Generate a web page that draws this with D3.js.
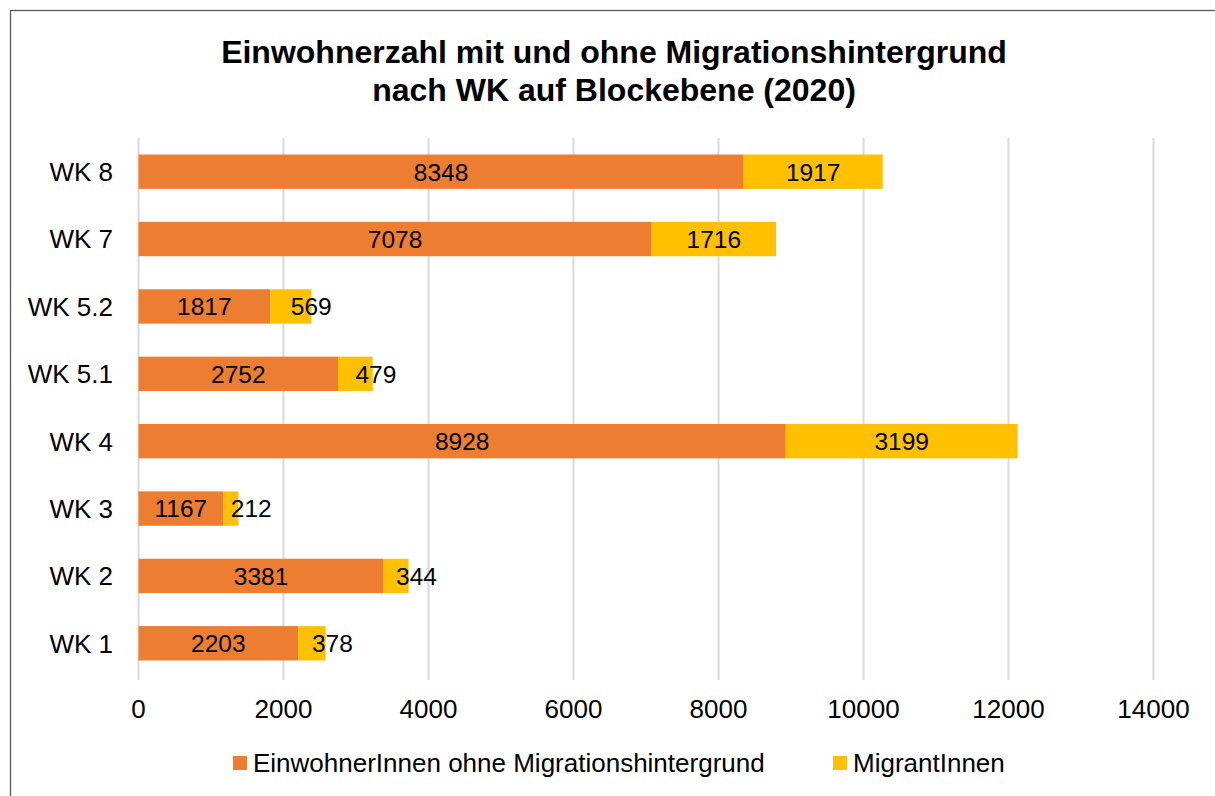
<!DOCTYPE html>
<html>
<head>
<meta charset="utf-8">
<script src="https://cdn.jsdelivr.net/npm/d3@7"></script>
<style>
  body { margin: 0; background: #fff; }
  svg { font-family: "Liberation Sans", Arial, sans-serif; }
</style>
</head>
<body>
<div id="chart"></div>
<script>
const categories = ["WK 8", "WK 7", "WK 5.2", "WK 5.1", "WK 4", "WK 3", "WK 2", "WK 1"];
const ohneMigration = [8348, 7078, 1817, 2752, 8928, 1167, 3381, 2203];
const migrantInnen = [1917, 1716, 569, 479, 3199, 212, 344, 378];
const seriesNames = ["EinwohnerInnen ohne Migrationshintergrund", "MigrantInnen"];
const seriesColors = ["#ED7D31", "#FFC000"];
const xTicks = [0, 2000, 4000, 6000, 8000, 10000, 12000, 14000];

const width = 1215, height = 796;
const svg = d3.select("#chart").append("svg")
    .attr("width", width)
    .attr("height", height);

// frame
svg.append("rect")
    .attr("x", 10.5).attr("y", 10.5)
    .attr("width", 1215).attr("height", 800)
    .attr("fill", "#fff")
    .attr("stroke", "#595959")
    .attr("stroke-width", 1.3);

// title
const title = svg.append("text")
    .attr("text-anchor", "middle")
    .style("font-size", "32px")
    .style("font-weight", "bold");
title.append("tspan").attr("x", 614).attr("y", 63).text("Einwohnerzahl mit und ohne Migrationshintergrund");
title.append("tspan").attr("x", 614).attr("y", 101).text("nach WK auf Blockebene (2020)");

const x = d3.scaleLinear().domain([0, 14000]).range([138.5, 1153.5]);
const y = d3.scaleBand().domain(categories).range([138, 677]).paddingInner(0.49).paddingOuter(0.245);

// gridlines
svg.append("g")
    .selectAll("line")
    .data(xTicks)
    .enter().append("line")
        .attr("x1", d => x(d)).attr("x2", d => x(d))
        .attr("y1", 138).attr("y2", 680)
        .attr("stroke", "#d9d9d9")
        .attr("stroke-width", 2);

// stacked data
const rows = categories.map((c, i) => ({ cat: c, ohne: ohneMigration[i], mig: migrantInnen[i] }));
const stack = d3.stack().keys(["ohne", "mig"])(rows);

const layers = svg.append("g")
    .selectAll("g")
    .data(stack)
    .enter().append("g")
        .attr("fill", (d, i) => seriesColors[i]);

layers.selectAll("rect")
    .data(d => d)
    .enter().append("rect")
        .attr("x", d => x(d[0]))
        .attr("y", d => y(d.data.cat))
        .attr("width", d => x(d[1]) - x(d[0]))
        .attr("height", y.bandwidth());

// narrow segments: label starts at the segment middle and spills out to the right
const narrow = d => x(d[1]) - x(d[0]) < 60;
layers.selectAll("text")
    .data(d => d)
    .enter().append("text")
        .attr("x", d => (x(d[0]) + x(d[1])) / 2)
        .attr("y", d => y(d.data.cat) + y.bandwidth() / 2)
        .attr("dy", "0.36em")
        .attr("text-anchor", d => narrow(d) ? "start" : "middle")
        .attr("fill", "#000")
        .style("font-size", "24.5px")
        .text(d => d[1] - d[0]);

// category labels
svg.append("g")
    .selectAll("text")
    .data(categories)
    .enter().append("text")
        .attr("x", 113)
        .attr("y", d => y(d) + y.bandwidth() / 2)
        .attr("dy", "0.36em")
        .attr("text-anchor", "end")
        .style("font-size", "26px")
        .text(d => d);

// x tick labels
svg.append("g")
    .selectAll("text")
    .data(xTicks)
    .enter().append("text")
        .attr("x", d => x(d))
        .attr("y", 709)
        .attr("dy", "0.36em")
        .attr("text-anchor", "middle")
        .style("font-size", "26px")
        .text(d => d);

// legend
const legendX = [233, 833];
const legend = svg.append("g")
    .selectAll("g")
    .data(seriesNames)
    .enter().append("g")
        .attr("transform", (d, i) => `translate(${legendX[i]},763)`);
legend.append("rect")
    .attr("x", 0).attr("y", -7)
    .attr("width", 14).attr("height", 14)
    .attr("fill", (d, i) => seriesColors[i]);
legend.append("text")
    .attr("x", 20)
    .attr("dy", "0.36em")
    .style("font-size", "26px")
    .text(d => d);
</script>
</body>
</html>
